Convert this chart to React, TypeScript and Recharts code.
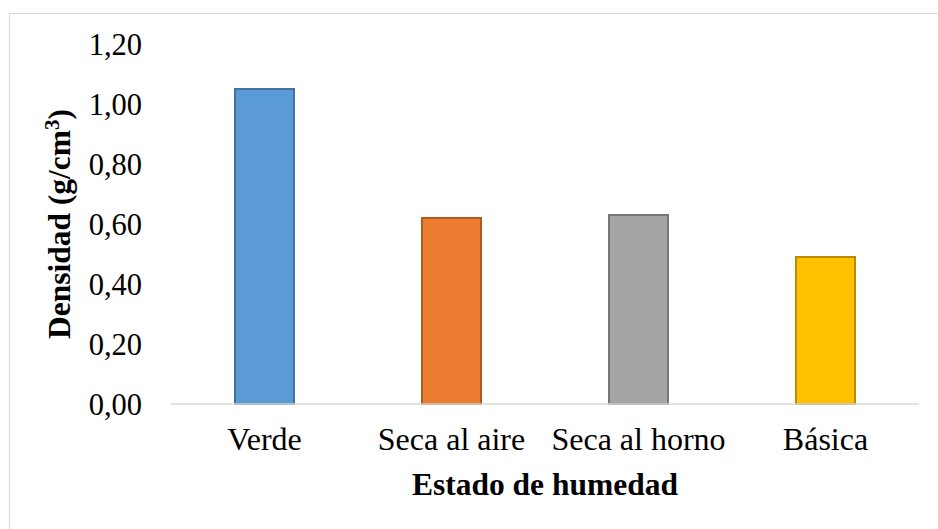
import { BarChart, Bar, Cell, XAxis, YAxis, Label } from 'recharts'

// datos
const estados = ['Verde', 'Seca al aire', 'Seca al horno', 'Básica']
const densidad = [1.05, 0.62, 0.63, 0.49]
const yTicks = [0, 0.2, 0.4, 0.6, 0.8, 1.0, 1.2]

// colores de Office (relleno / borde)
const FILLS = ['#5B9BD5', '#ED7D31', '#A5A5A5', '#FFC000']
const STROKES = ['#41719C', '#AE5A21', '#787878', '#BC8C00']

const FONT = 'Liberation Serif, DejaVu Serif, serif'

const rows = estados.map((estado, i) => ({ estado, densidad: densidad[i] }))

function fmt(v: number): string {
  return v.toFixed(2).replace('.', ',')
}

function YTitle(props: any) {
  const vb = props.viewBox || { y: 44, height: 360 }
  const cy = vb.y + vb.height / 2
  return (
    <text
      transform={`translate(70, ${cy}) rotate(-90)`}
      textAnchor="middle"
      style={{ fontFamily: FONT, fontWeight: 'bold', fontSize: 31.5 }}
      fill="#000"
    >
      Densidad (g/cm
      <tspan dy={-11} fontSize={21}>3</tspan>
      <tspan dy={11}>)</tspan>
    </text>
  )
}

export default function App() {
  return (
    <div
      style={{
        position: 'absolute',
        left: 0,
        top: 0,
        width: 938,
        height: 529,
        background: '#fff',
        overflow: 'hidden',
        fontFamily: FONT,
      }}
    >
      <style>{`.recharts-wrapper text { font-family: ${FONT}; }`}</style>
      {/* marco del área del gráfico */}
      <div
        style={{
          position: 'absolute',
          left: 9,
          top: 13,
          width: 940,
          height: 540,
          borderTop: '1.5px solid #d9d9d9',
          borderLeft: '1.5px solid #d9d9d9',
        }}
      />
      <div style={{ position: 'absolute', left: 0, top: 0 }}>
        <BarChart
          width={938}
          height={529}
          data={rows}
          margin={{ top: 44, right: 19, left: 0, bottom: 0 }}
          barSize={59}
        >
          <XAxis
            dataKey="estado"
            height={125}
            tickLine={false}
            tickSize={0}
            tickMargin={23}
            axisLine={{ stroke: '#d9d9d9', strokeWidth: 1.5 }}
            tick={{ fontSize: 32, fill: '#000' }}
            interval={0}
          >
            <Label
              value="Estado de humedad"
              position="insideTop"
              offset={69}
              style={{ fontSize: 31.5, fontWeight: 'bold', fill: '#000' }}
            />
          </XAxis>
          <YAxis
            width={171}
            domain={[0, 1.2]}
            ticks={yTicks}
            tickFormatter={fmt}
            axisLine={false}
            tickLine={false}
            tickSize={0}
            tickMargin={29}
            tick={{ fontSize: 30.5, fill: '#000' }}
          >
            <Label content={<YTitle />} />
          </YAxis>
          <Bar dataKey="densidad" isAnimationActive={false} strokeWidth={2}>
            {rows.map((r, i) => (
              <Cell key={r.estado} fill={FILLS[i]} stroke={STROKES[i]} />
            ))}
          </Bar>
        </BarChart>
      </div>
    </div>
  )
}
